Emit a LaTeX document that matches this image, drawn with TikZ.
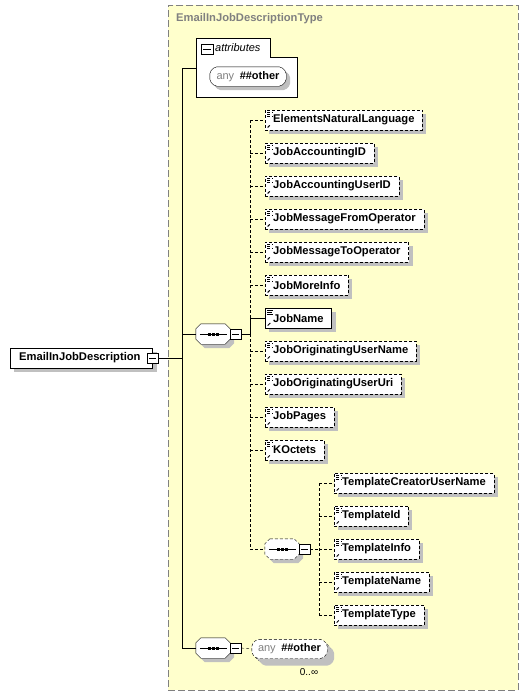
\documentclass[tikz,border=0pt]{standalone}
\usepackage{fontspec}
\setmainfont{Liberation Sans}
\usetikzlibrary{shadows}
\definecolor{bgy}{HTML}{FFFFCC}
\definecolor{shd}{HTML}{C0C0C0}
\definecolor{frame}{HTML}{808080}
\newcommand\octpath[2]{([xshift=#2]#1.north west) -- ([xshift=-#2]#1.north east) -- ([yshift=-#2]#1.north east) -- ([yshift=#2]#1.south east) -- ([xshift=-#2]#1.south east) -- ([xshift=#2]#1.south west) -- ([yshift=#2]#1.south west) -- ([yshift=-#2]#1.north west) -- cycle}
\newcommand\seqsym[4]{%
  \path node[minimum width=34pt,minimum height=20pt,inner sep=0pt] (#1) at (#2,#3) {};
  \fill[shd,transform canvas={shift={(4pt,-4pt)}}] \octpath{#1}{5pt};
  \draw[fill=white,#4] \octpath{#1}{5pt};
  \draw ([xshift=4pt]#1.west) -- ([xshift=-3pt]#1.east);
  \foreach \d in {-5.5,-1.5,2.5} \fill ([xshift=\d pt,yshift=-1.5pt]#1.center) rectangle ++(3pt,3pt);
}
\newcommand\anyshape[5]{% name, x, y, width, style
  \path node[minimum width=#4pt,minimum height=19pt,inner sep=0pt] (#1) at (#2,#3) {};
  \fill[shd,rounded corners=2pt,transform canvas={shift={(4pt,-4pt)}}] \octpath{#1}{5pt};
  \draw[fill=white,rounded corners=2pt,#5] \octpath{#1}{5pt};
}
\begin{document}
\begin{tikzpicture}[x=1pt,y=-1pt,
  lbl/.style={font=\fontsize{11.2}{13}\selectfont\bfseries},
  shadowed/.style={drop shadow={shadow xshift=4pt,shadow yshift=-4pt,fill=shd,opacity=1}},
  dsh/.style={dash pattern=on 3pt off 2pt},
  elem/.style={lbl,draw,fill=white,shadowed,rectangle,inner xsep=0pt,inner ysep=0pt,
    minimum height=20pt,anchor=west,
    path picture={
      \draw[line width=0.8pt] ([xshift=2pt,yshift=-2pt]path picture bounding box.north west) -- ++(6pt,0pt);
      \draw[line width=0.8pt] ([xshift=2pt,yshift=-4pt]path picture bounding box.north west) -- ++(5pt,0pt);
      \draw[line width=0.8pt] ([xshift=2pt,yshift=-6pt]path picture bounding box.north west) -- ++(6pt,0pt);
      \draw[line width=1pt] ([xshift=2.5pt,yshift=2.5pt]path picture bounding box.south west) -- ++(3pt,3pt);
      \fill ([xshift=7pt,yshift=7pt]path picture bounding box.south west) -- ++(-3.5pt,0pt) -- ++(3.5pt,-3.5pt) -- cycle;
    }},
  optelem/.style={elem,dsh},
  minusbox/.style={draw,fill=white,minimum width=11pt,minimum height=10pt,inner sep=0pt,
    path picture={\draw ([xshift=2pt]path picture bounding box.west) -- ([xshift=-2pt]path picture bounding box.east);}},
  anytext/.style={inner sep=0pt,font=\fontsize{11}{13}\selectfont}
]
\useasboundingbox (0,0) rectangle (528,696);
\fill[white] (0,0) rectangle (528,696);

% type container
\node[draw=frame,fill=bgy,dash pattern=on 7pt off 3pt,line width=0.8pt,minimum width=350pt,minimum height=685pt,anchor=north west,inner sep=0pt] (typebox) at (168,5) {};
\node[lbl,text=frame,anchor=west,inner sep=0pt] (title) at (176,19) {EmailInJobDescriptionType};

% attributes
\draw[fill=white] (196,38) -- (270,38) -- (270,57) -- (297,57) -- (297,97) -- (196,97) -- cycle;
\node[minusbox,minimum width=12pt] (attrminus) at (207,49) {};
\node[anchor=west,inner sep=0pt,font=\fontsize{11}{13}\selectfont\itshape] (attrlbl) at (215,48) {attributes};
\anyshape{attrany}{248}{76.5}{76}{}
\node[anytext] (attranytxt) at (attrany.center) {\textcolor{gray}{any}\enspace\textbf{\#\#other}};
\coordinate (attrL) at (196,68);

% root element
\node[lbl,draw,fill=white,shadowed,inner xsep=0pt,inner ysep=0pt,minimum height=20pt,anchor=west] (root) at (10,358) {\kern9pt EmailInJobDescription\kern12pt};
\node[minusbox] (rootminus) at (152.5,358) {};

% junctions of the main bar
\coordinate (A1) at (182,68);
\coordinate (A2) at (182,334);
\coordinate (A3) at (182,358);
\coordinate (A4) at (182,648);
\draw (rootminus.east) -- (A3);
\draw (A1) -- (A4);
\draw (A1) -- (attrL);

% first sequence
\seqsym{seq1}{213}{334}{}
\node[minusbox] (seq1minus) at (235.5,334) {};
\draw (A2) -- (seq1.west);
\coordinate (B0) at (250,334);
\coordinate (Btop) at (250,120);
\coordinate (Bname) at (250,318);
\coordinate (Bbot) at (250,549);
\draw (seq1minus.east) -- (B0);
\draw[dsh] (Btop) -- (Bname);
\draw (Bname) -- (B0);
\draw[dsh] (B0) -- (Bbot);

% children
\node[optelem] (e1) at (265,120) {\kern8pt ElementsNaturalLanguage\kern8pt};
\node[optelem] (e2) at (265,153) {\kern8pt JobAccountingID\kern8pt};
\node[optelem] (e3) at (265,186) {\kern8pt JobAccountingUserID\kern8pt};
\node[optelem] (e4) at (265,219) {\kern8pt JobMessageFromOperator\kern8pt};
\node[optelem] (e5) at (265,252) {\kern8pt JobMessageToOperator\kern8pt};
\node[optelem] (e6) at (265,285) {\kern8pt JobMoreInfo\kern8pt};
\node[elem] (e7) at (265,318) {\kern8pt JobName\kern8pt};
\node[optelem] (e8) at (265,351) {\kern8pt JobOriginatingUserName\kern8pt};
\node[optelem] (e9) at (265,384) {\kern8pt JobOriginatingUserUri\kern8pt};
\node[optelem] (e10) at (265,417) {\kern8pt JobPages\kern8pt};
\node[optelem] (e11) at (265,450) {\kern8pt KOctets\kern8pt};
\foreach \n in {e1,e2,e3,e4,e5,e6,e8,e9,e10,e11}
  \draw[dsh] (\n.west -| B0) -- (\n.west);
\draw (e7.west -| B0) -- (e7.west);

% template sequence
\seqsym{seq2}{282}{549}{dsh}
\node[minusbox] (seq2minus) at (304.5,549) {};
\draw[dsh] (Bbot) -- (seq2.west);
\coordinate (C0) at (319,549);
\coordinate (Ctop) at (319,483);
\coordinate (Cbot) at (319,615);
\draw[dsh] (seq2minus.east) -- (C0);
\draw[dsh] (Ctop) -- (Cbot);
\node[optelem] (t1) at (334,483) {\kern8pt TemplateCreatorUserName\kern8pt};
\node[optelem] (t2) at (334,516) {\kern8pt TemplateId\kern8pt};
\node[optelem] (t3) at (334,549) {\kern8pt TemplateInfo\kern8pt};
\node[optelem] (t4) at (334,582) {\kern8pt TemplateName\kern8pt};
\node[optelem] (t5) at (334,615) {\kern8pt TemplateType\kern8pt};
\foreach \n in {t1,t2,t3,t4,t5}
  \draw[dsh] (\n.west -| C0) -- (\n.west);

% bottom sequence with any
\seqsym{seq3}{213}{648}{}
\node[minusbox] (seq3minus) at (235.5,648) {};
\draw (A4) -- (seq3.west);
\anyshape{anyback}{292.5}{652}{75}{dsh}
\anyshape{anyfront}{289.5}{649}{75}{dsh}
\node[anytext] (anyfronttxt) at (anyfront.center) {\textcolor{gray}{any}\enspace\textbf{\#\#other}};
\draw[dsh] (seq3minus.east) -- (anyfront.west);
\node[font=\fontsize{10}{12}\selectfont,inner sep=0pt] (mult) at (309,672) {0..∞};
\end{tikzpicture}
\end{document}
